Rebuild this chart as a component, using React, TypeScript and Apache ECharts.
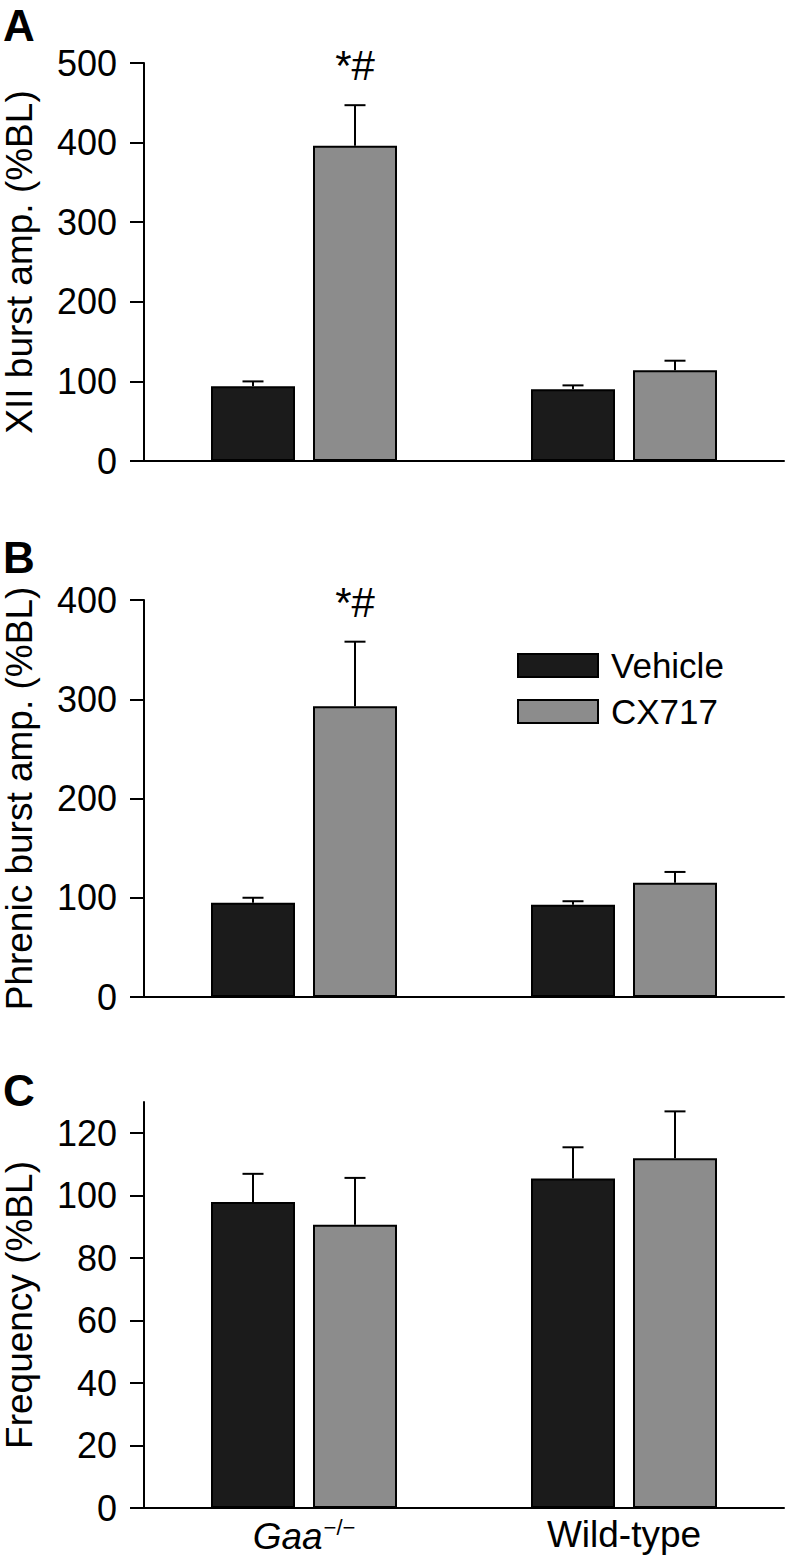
import React, { useEffect, useRef } from "react";
import * as echarts from "echarts";

const categories = ["Gaa", "Wild-type"];
const seriesNames = ["Vehicle", "CX717"];

// Panel A: XII burst amplitude (%BL)
const xiiVehicle = [94, 90];
const xiiVehicleSem = [6, 5];
const xiiCx = [396, 114];
const xiiCxSem = [51, 12];

// Panel B: Phrenic burst amplitude (%BL)
const phrVehicle = [95, 93];
const phrVehicleSem = [5, 3.5];
const phrCx = [293, 115];
const phrCxSem = [65, 11];

// Panel C: Frequency (%BL)
const freqVehicle = [98, 105.5];
const freqVehicleSem = [9, 10];
const freqCx = [90.7, 112];
const freqCxSem = [15, 15];

const xiiTicks = [0, 100, 200, 300, 400, 500];
const phrTicks = [0, 100, 200, 300, 400];
const freqTicks = [0, 20, 40, 60, 80, 100, 120];

const panelTitles = ["XII burst amp. (%BL)", "Phrenic burst amp. (%BL)", "Frequency (%BL)"];
const panelLetters = ["A", "B", "C"];
const significance = "*#";

const FONT = "'Liberation Sans', Arial, Helvetica, sans-serif";
const VEH_COLOR = "#1b1b1b";
const CX_COLOR = "#8c8c8c";
const BAR_W = 84;
const BAR_GAP = 18;
const OFFSET = (BAR_W + BAR_GAP) / 2;

export default function App() {
  const ref = useRef<HTMLDivElement>(null);
  useEffect(() => {
    document.body.style.margin = "0";
    if (!ref.current) return;
    const chart = echarts.init(ref.current, null, { renderer: "svg" });

    const panels = [
      { top: 63, height: 398, max: 500, interval: 100, ticks: xiiTicks, veh: xiiVehicle, vehSem: xiiVehicleSem, cx: xiiCx, cxSem: xiiCxSem, sig: true },
      { top: 600, height: 397, max: 400, interval: 100, ticks: phrTicks, veh: phrVehicle, vehSem: phrVehicleSem, cx: phrCx, cxSem: phrCxSem, sig: true },
      { top: 1102, height: 406, max: 130, interval: 20, ticks: freqTicks, veh: freqVehicle, vehSem: freqVehicleSem, cx: freqCx, cxSem: freqCxSem, sig: false },
    ];

    const grids: any[] = [];
    const xAxes: any[] = [];
    const yAxes: any[] = [];
    const series: any[] = [];

    const errRender = (offset: number) => (params: any, api: any) => {
      const cat = api.value(0);
      const mean = api.value(1);
      const sem = api.value(2);
      const base = api.coord([cat, mean]);
      const top = api.coord([cat, mean + sem]);
      const x = base[0] + offset;
      const st = { stroke: "#000", lineWidth: 2 };
      return {
        type: "group",
        children: [
          { type: "line", shape: { x1: x, y1: base[1], x2: x, y2: top[1] }, style: st },
          { type: "line", shape: { x1: x - 10.5, y1: top[1], x2: x + 10.5, y2: top[1] }, style: st },
        ],
      };
    };

    panels.forEach((p, i) => {
      grids.push({ left: 144, right: 4, top: p.top, height: p.height, containLabel: false, outerBoundsMode: "none" });
      const last = i === panels.length - 1;
      xAxes.push({
        type: "category",
        gridIndex: i,
        data: categories,
        axisLine: { lineStyle: { color: "#000", width: 2 } },
        axisTick: { show: false },
        axisLabel: {
          show: last,
          margin: 8,
          color: "#000",
          fontFamily: FONT,
          fontSize: 37,
          formatter: (v: string) => (v === "Gaa" ? "{i|Gaa}{s|−/−}" : "{n|" + v + "}"),
          rich: {
            i: { fontStyle: "italic", fontSize: 37, fontFamily: FONT, color: "#000" },
            s: { fontSize: 22, fontFamily: FONT, color: "#000", verticalAlign: "top", padding: [0, 0, 18, 1] },
            n: { fontSize: 37, fontFamily: FONT, color: "#000" },
          },
        },
      });
      yAxes.push({
        type: "value",
        gridIndex: i,
        min: 0,
        max: p.max,
        interval: p.interval,
        name: panelTitles[i],
        nameLocation: "middle",
        nameGap: 106,
        nameTextStyle: { fontFamily: FONT, fontSize: 37, color: "#000" },
        axisLine: { show: true, lineStyle: { color: "#000", width: 2 } },
        axisTick: { show: true, length: 14, lineStyle: { color: "#000", width: 2 }, customValues: p.ticks },
        axisLabel: { margin: 27, color: "#000", fontFamily: FONT, fontSize: 36, customValues: p.ticks },
        splitLine: { show: false },
      });
      series.push({
        type: "bar",
        name: seriesNames[0],
        xAxisIndex: i,
        yAxisIndex: i,
        data: p.veh,
        barWidth: BAR_W,
        barGap: (BAR_GAP / BAR_W) * 100 + "%",
        itemStyle: { color: VEH_COLOR, borderColor: "#000", borderWidth: 2 },
      });
      series.push({
        type: "bar",
        name: seriesNames[1],
        xAxisIndex: i,
        yAxisIndex: i,
        data: p.cx,
        barWidth: BAR_W,
        barGap: (BAR_GAP / BAR_W) * 100 + "%",
        itemStyle: { color: CX_COLOR, borderColor: "#000", borderWidth: 2 },
        markPoint: p.sig
          ? {
              symbol: "rect",
              symbolSize: 0,
              data: [{ coord: [0, p.max] }],
              label: {
                show: true,
                position: "inside",
                offset: [0, 2],
                formatter: significance,
                fontFamily: FONT,
                fontSize: 42,
                color: "#000",
              },
            }
          : undefined,
      });
      series.push({
        type: "custom",
        xAxisIndex: i,
        yAxisIndex: i,
        renderItem: errRender(-OFFSET),
        encode: { x: 0, y: 1 },
        data: p.veh.map((v, k) => [k, v, p.vehSem[k]]),
        z: 5,
      });
      series.push({
        type: "custom",
        xAxisIndex: i,
        yAxisIndex: i,
        renderItem: errRender(OFFSET),
        encode: { x: 0, y: 1 },
        data: p.cx.map((v, k) => [k, v, p.cxSem[k]]),
        z: 5,
      });
    });

    const letterTops = [3, 535, 1068];

    chart.setOption({
      animation: false,
      backgroundColor: "#fff",
      grid: grids,
      xAxis: xAxes,
      yAxis: yAxes,
      series,
      legend: {
        data: seriesNames,
        left: 517,
        top: 648,
        padding: 0,
        orient: "vertical",
        itemWidth: 80,
        itemHeight: 23,
        itemGap: 11,
        icon: "rect",
        textStyle: { fontFamily: FONT, fontSize: 35, color: "#000", padding: [0, 0, 0, 8] },
        selectedMode: false,
      },
      graphic: panelLetters.map((t, i) => ({
        type: "text",
        left: 3,
        top: letterTops[i],
        style: { text: t, fontFamily: FONT, fontWeight: "bold", fontSize: 44, fill: "#000" },
      })),
    });

    return () => chart.dispose();
  }, []);

  return <div ref={ref} style={{ width: 788, height: 1562 }} />;
}
